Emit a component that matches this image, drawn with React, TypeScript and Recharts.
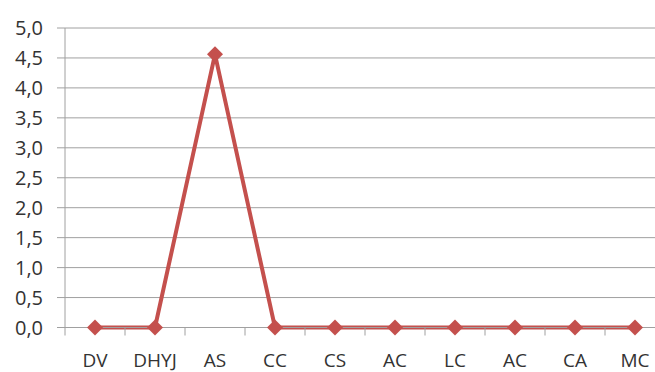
import React from 'react';
import { LineChart, Line, XAxis, YAxis, CartesianGrid } from 'recharts';

// Category labels along the bottom axis (AC appears twice)
const categories = ['DV', 'DHYJ', 'AS', 'CC', 'CS', 'AC', 'LC', 'AC', 'CA', 'MC'];
// One value per category
const values = [0, 0, 4.56, 0, 0, 0, 0, 0, 0, 0];
// Y ticks every 0.5 from 0 to 5
const yTicks = [0, 0.5, 1, 1.5, 2, 2.5, 3, 3.5, 4, 4.5, 5];

const VIEW_W = 655;
const CHART_W = 680;
const CHART_H = 372;
const MARGIN = { top: 28, right: 15, left: 0, bottom: 0 };
const Y_AXIS_W = 65;
const X_AXIS_H = 44.5;
const PLOT_BOTTOM = CHART_H - MARGIN.bottom - X_AXIS_H;
const BAND = (CHART_W - MARGIN.left - MARGIN.right - Y_AXIS_W) / categories.length;

const GRID = '#a0a0a0';
const LINE = '#c4504d';
const TEXT = '#333';
const FONT = '"Open Sans", Lato, sans-serif';

const data = categories.map((name, i) => ({ name, value: values[i] }));

const fmt = (v: number) => v.toFixed(1).replace('.', ',');

// Diamond marker centred on the point
const Diamond = (props: any) => {
    const { cx, cy } = props;
    if (cx == null || cy == null) return null;
    const r = 8;
    return (
        <polygon
            key={props.index}
            points={`${cx},${cy - r} ${cx + r},${cy} ${cx},${cy + r} ${cx - r},${cy}`}
            fill={LINE}
            stroke="none"
        />
    );
};

// Category label at band centre, tick mark on the band boundary
const CategoryTick = (props: any) => {
    const { x, payload, index } = props;
    const left = x - BAND / 2;
    const right = x + BAND / 2;
    return (
        <g>
            <line x1={left} y1={PLOT_BOTTOM} x2={left} y2={PLOT_BOTTOM + 8} stroke={GRID} />
            {index === categories.length - 1 && (
                <line x1={right} y1={PLOT_BOTTOM} x2={right} y2={PLOT_BOTTOM + 8} stroke={GRID} />
            )}
            <text
                x={x}
                y={PLOT_BOTTOM + 39.5}
                textAnchor="middle"
                fill={TEXT}
                fontSize={19}
                fontFamily={FONT}
            >
                {payload.value}
            </text>
        </g>
    );
};

export default function App() {
    return (
        <div
            style={{
                position: 'fixed',
                left: 0,
                top: 0,
                width: VIEW_W,
                height: CHART_H,
                overflow: 'hidden',
                background: '#fff',
            }}
        >
            <LineChart width={CHART_W} height={CHART_H} data={data} margin={MARGIN}>
                <CartesianGrid vertical={false} stroke={GRID} strokeWidth={1} />
                <XAxis
                    dataKey="name"
                    height={X_AXIS_H}
                    padding={{ left: BAND / 2, right: BAND / 2 }}
                    axisLine={{ stroke: GRID }}
                    tickLine={false}
                    interval={0}
                    tick={(p: any) => <CategoryTick {...p} />}
                />
                <YAxis
                    width={Y_AXIS_W}
                    domain={[0, 5]}
                    ticks={yTicks}
                    interval={0}
                    tickFormatter={fmt}
                    axisLine={{ stroke: GRID }}
                    tickLine={{ stroke: GRID }}
                    tickSize={8}
                    tickMargin={14}
                    tick={{ fill: TEXT, fontSize: 20, fontFamily: FONT }}
                />
                <Line
                    type="linear"
                    dataKey="value"
                    stroke={LINE}
                    strokeWidth={4}
                    dot={(p: any) => <Diamond {...p} />}
                    activeDot={false}
                    isAnimationActive={false}
                />
            </LineChart>
        </div>
    );
}
